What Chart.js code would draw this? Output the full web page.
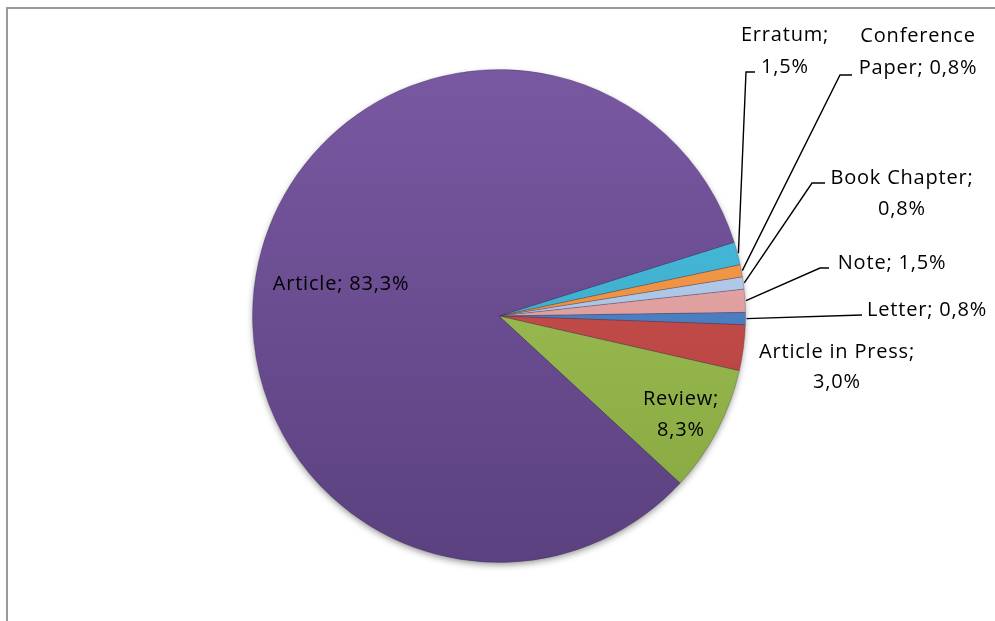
<!DOCTYPE html>
<html>
<head>
<meta charset="utf-8">
<script src="https://cdn.jsdelivr.net/npm/chart.js@4.4.1/dist/chart.umd.min.js"></script>
<style>
html,body{margin:0;padding:0;background:#fff;overflow:hidden;}
#wrap{position:relative;width:995px;height:621px;}
canvas{display:block;}
</style>
</head>
<body>
<div id="wrap"><canvas id="c" width="995" height="621"></canvas></div>
<script>
// ---- data ----
const categories = ['Erratum', 'Conference Paper', 'Book Chapter', 'Note', 'Letter', 'Article in Press', 'Review', 'Article'];
const shares = [1.5, 0.8, 0.8, 1.5, 0.8, 3.0, 8.3, 83.3];

// ---- styles ----
const lightColors = ['#4fc6e6', '#fba85a', '#c9dcf3', '#f3b9b8', '#5d94d8', '#d95855', '#a7c85e', '#7958a2'];
const darkColors  = ['#2f98b8', '#e07a28', '#8fadd6', '#c98584', '#3769a8', '#a83c39', '#84a63e', '#5b417f'];
const fontFamily = '"Open Sans", Lato, sans-serif';

// label layout: text anchor and leader line elbow points (layout only, not data)
const labelLayout = [
  {wrap: 'name', x: 785, ys: [35, 67], leader: [[746, 72], [755, 72]]},
  {wrap: 'word', x: 918, ys: [36, 68], leader: [[840, 75], [852, 75]]},
  {wrap: 'name', x: 902, ys: [178, 209], leader: [[812, 183], [825, 183]]},
  {wrap: 'none', x: 892, ys: [263], leader: [[820, 268], [829, 268]]},
  {wrap: 'none', x: 927, ys: [310], leader: [[862, 315]]},
  {wrap: 'name', x: 837, ys: [352, 382], leader: null},
  {wrap: 'name', x: 681, ys: [399, 430], leader: null},
  {wrap: 'none', x: 341, ys: [284], leader: null}
];

function fmt(v){ return v.toFixed(1).replace('.', ',') + '%'; }
function labelLines(i){
  const name = categories[i], val = fmt(shares[i]);
  const w = labelLayout[i].wrap;
  if (w === 'name') return [name + ';', val];
  if (w === 'word') { const p = name.split(' '); return [p[0], p.slice(1).join(' ') + '; ' + val]; }
  return [name + '; ' + val];
}

const framePlugin = {
  id: 'frame',
  beforeDraw(chart){
    const ctx = chart.ctx;
    ctx.save();
    ctx.strokeStyle = '#9a9a9a';
    ctx.lineWidth = 2;
    ctx.beginPath();
    ctx.moveTo(7, 640); ctx.lineTo(7, 8); ctx.lineTo(1000, 8);
    ctx.stroke();
    ctx.restore();
  }
};

const shadowPlugin = {
  id: 'pieShadow',
  beforeDatasetsDraw(chart){
    const arc = chart.getDatasetMeta(0).data[0];
    if (!arc) return;
    const ctx = chart.ctx;
    ctx.save();
    ctx.shadowColor = 'rgba(0,0,0,0.45)';
    ctx.shadowBlur = 7;
    ctx.shadowOffsetY = 3;
    ctx.fillStyle = '#5a417e';
    ctx.beginPath();
    ctx.arc(arc.x, arc.y, arc.outerRadius - 1, 0, Math.PI * 2);
    ctx.fill();
    ctx.restore();
  }
};

const labelPlugin = {
  id: 'excelLabels',
  afterDatasetsDraw(chart){
    const ctx = chart.ctx;
    const meta = chart.getDatasetMeta(0);
    ctx.save();
    meta.data.forEach((arc, i) => {
      const L = labelLayout[i];
      if (L.leader) {
        const mid = (arc.startAngle + arc.endAngle) / 2;
        const r = arc.outerRadius + 1;
        ctx.strokeStyle = '#000';
        ctx.lineWidth = 1.4;
        ctx.beginPath();
        ctx.moveTo(arc.x + r * Math.cos(mid), arc.y + r * Math.sin(mid));
        L.leader.forEach(p => ctx.lineTo(p[0], p[1]));
        ctx.stroke();
      }
      const lines = labelLines(i);
      ctx.fillStyle = '#000';
      ctx.font = '20px ' + fontFamily;
      ctx.letterSpacing = '0.8px';
      ctx.textAlign = 'center';
      ctx.textBaseline = 'middle';
      lines.forEach((t, k) => ctx.fillText(t, L.x, L.ys[k]));
    });
    ctx.restore();
  }
};

function sliceFill(ctx){
  const chart = ctx.chart;
  const area = chart.chartArea;
  if (!area) return lightColors[ctx.dataIndex];
  const g = chart.ctx.createLinearGradient(0, area.top, 0, area.bottom);
  g.addColorStop(0, lightColors[ctx.dataIndex]);
  g.addColorStop(1, darkColors[ctx.dataIndex]);
  return g;
}

new Chart(document.getElementById('c'), {
  type: 'pie',
  data: {
    labels: categories,
    datasets: [{
      data: shares,
      backgroundColor: sliceFill,
      borderColor: 'rgba(40,30,60,0.25)',
      borderWidth: 1
    }]
  },
  options: {
    responsive: false,
    devicePixelRatio: 1,
    animation: false,
    rotation: 72.6,
    layout: {padding: {left: 252, right: 249, top: 69, bottom: 58}},
    plugins: {legend: {display: false}, tooltip: {enabled: false}}
  },
  plugins: [framePlugin, shadowPlugin, labelPlugin]
});
</script>
</body>
</html>
